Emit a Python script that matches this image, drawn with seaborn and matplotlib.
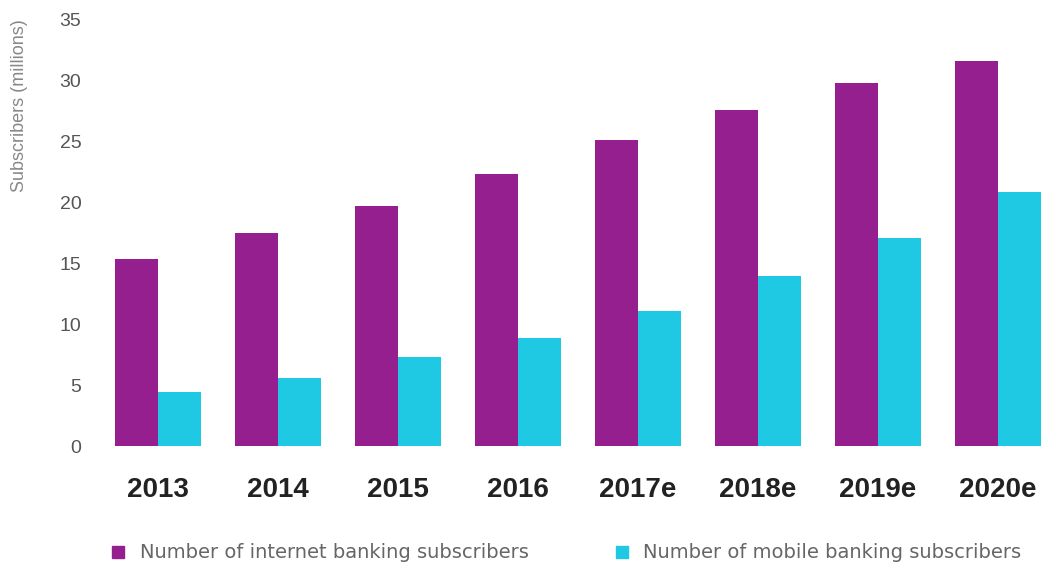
import pandas as pd
import seaborn as sns
import matplotlib.pyplot as plt
from matplotlib.lines import Line2D

years = ["2013", "2014", "2015", "2016", "2017e", "2018e", "2019e", "2020e"]
internet = [15.4, 17.5, 19.7, 22.35, 25.1, 27.6, 29.8, 31.6]
mobile = [4.4, 5.6, 7.3, 8.85, 11.1, 14.0, 17.1, 20.9]
series_names = ["Number of internet banking subscribers", "Number of mobile banking subscribers"]
colors = ["#951f8e", "#1fc8e3"]

df = pd.DataFrame({
    "year": years * 2,
    "value": internet + mobile,
    "series": [series_names[0]] * len(years) + [series_names[1]] * len(years),
})

sns.set_theme(style="white")
plt.rcParams["font.family"] = ["Liberation Sans", "DejaVu Sans"]

fig = plt.figure(figsize=(10.47, 5.70), dpi=100)
ax = fig.add_axes([0.0936, 0.2175, 0.9044, 0.7475])

sns.barplot(data=df, x="year", y="value", hue="series", palette=colors,
            width=0.71, saturation=1, linewidth=0, ax=ax, legend=False)

ax.set_ylim(0, 35)
ax.set_xlim(-0.5, 7.39)
ax.set_yticks(range(0, 36, 5))
for s in ax.spines.values():
    s.set_visible(False)
ax.tick_params(axis="y", length=0, labelsize=14, labelcolor="#555555", pad=12)
ax.tick_params(axis="x", length=0, labelsize=20, labelcolor="#222222", pad=22)
for t in ax.get_xticklabels():
    t.set_fontweight("bold")
ax.set_xlabel("")
ax.set_ylabel("Subscribers (millions)", fontsize=13, color="#888888", labelpad=4)
ax.yaxis.set_label_coords(-0.074, 0.80)

handles = [Line2D([], [], marker="s", linestyle="", markersize=9, color=c) for c in colors]
fig.legend(handles, series_names, loc="center left", bbox_to_anchor=(0.087, 0.03),
           ncol=2, frameon=False, labelcolor="#666666",
           prop={"family": "DejaVu Sans", "size": 14.0},
           handletextpad=0.6, columnspacing=4.3, handlelength=1.0)

fig.savefig("out.png", dpi=100)
plt.close(fig)
